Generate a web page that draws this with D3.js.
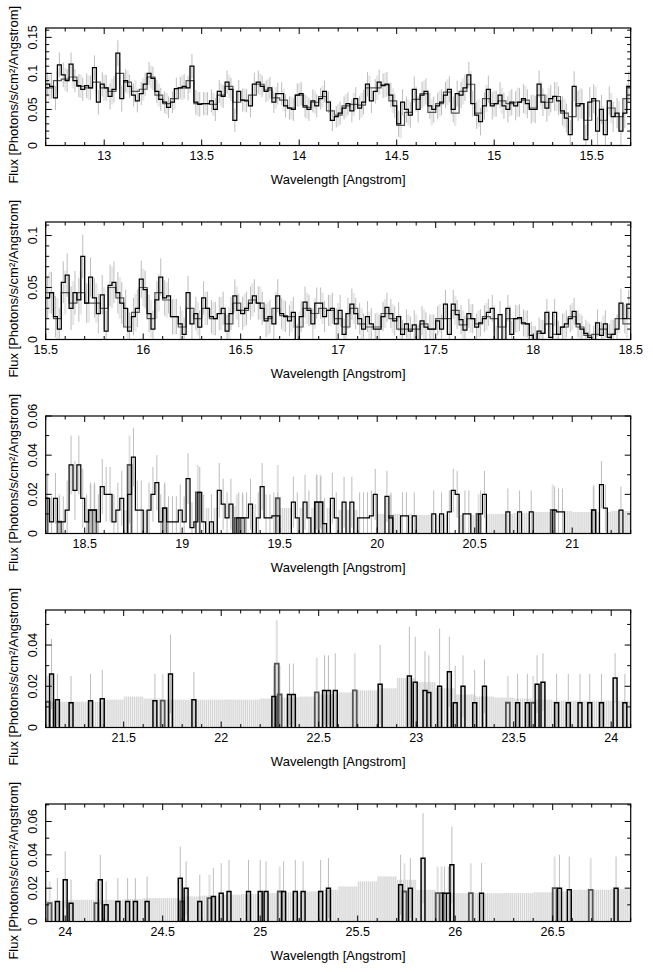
<!DOCTYPE html>
<html><head><meta charset="utf-8">
<script src="https://cdn.jsdelivr.net/npm/d3@7"></script>
<style>
body{margin:0;background:#fff}
svg{display:block}
text{font-family:"Liberation Sans",Arial,Helvetica,sans-serif;fill:#000}
</style>
</head><body>
<svg id="chart" width="653" height="972"></svg>
<script>
// ---------------- DATA ----------------
const p1Range = [12.7, 15.7], p1YMax = 0.163;
const p2Range = [15.5, 18.5], p2YMax = 0.113;
const p3Range = [18.3, 21.3], p3YMax = 0.06;
const p4Range = [21.1, 24.1], p4YMax = 0.057;
const p5Range = [23.9, 26.9], p5YMax = 0.0705;

const p1XTicks = [13, 13.5, 14, 14.5, 15, 15.5];
const p2XTicks = [15.5, 16, 16.5, 17, 17.5, 18, 18.5];
const p3XTicks = [18.5, 19, 19.5, 20, 20.5, 21];
const p4XTicks = [21.5, 22, 22.5, 23, 23.5, 24];
const p5XTicks = [24, 24.5, 25, 25.5, 26, 26.5];

const p1YTicks = [0, 0.05, 0.1, 0.15];
const p2YTicks = [0, 0.05, 0.1];
const p3YTicks = [0, 0.02, 0.04, 0.06];
const p4YTicks = [0, 0.02, 0.04];
const p5YTicks = [0, 0.02, 0.04, 0.06];

const xTitle = "Wavelength [Angstrom]";
const yTitle = "Flux [Photons/s/cm\u00B2/Angstrom]";

// Panel 1: 0.02 A bins from 12.70
const p1Flux = [
0.085,0.082,0.066,0.112,0.098, 0.09,0.113,0.09,0.083,0.078,
0.083,0.08,0.108,0.06,0.085, 0.08,0.068,0.078,0.128,0.065,
0.09,0.082,0.07,0.062,0.072, 0.085,0.1,0.093,0.075,0.064,
0.06,0.053,0.06,0.079,0.08, 0.082,0.08,0.11,0.06,0.057,
0.058,0.058,0.062,0.05,0.075, 0.068,0.088,0.078,0.035,0.075,
0.063,0.062,0.055,0.085,0.088, 0.082,0.075,0.08,0.06,0.072,
0.072,0.055,0.052,0.05,0.07, 0.072,0.055,0.05,0.062,0.055,
0.065,0.075,0.06,0.035,0.04, 0.045,0.052,0.058,0.048,0.065,
0.052,0.06,0.085,0.062,0.075, 0.088,0.083,0.085,0.07,0.055,
0.03,0.06,0.05,0.042,0.078, 0.05,0.07,0.075,0.055,0.05,
0.055,0.06,0.07,0.078,0.05, 0.072,0.07,0.08,0.098,0.058,
0.042,0.033,0.055,0.078,0.055, 0.058,0.07,0.055,0.05,0.06,
0.055,0.06,0.065,0.058,0.05, 0.05,0.085,0.06,0.052,0.065,
0.068,0.062,0.048,0.038,0.015, 0.082,0.055,0.058,0.008,0.06,
0.065,0.02,0.05,0.015,0.062, 0.04,0.045,0.02,0.045,0.082
];
// Panel 1 second spectrum: 0.04 A bins from 12.70
const p1Flux2 = [
0.08,0.09,0.092,0.095,0.082, 0.08,0.088,0.08,0.075,0.1,
0.088,0.075,0.078,0.095,0.07, 0.058,0.065,0.08,0.09,0.058,
0.058,0.057,0.07,0.082,0.06, 0.063,0.07,0.085,0.077,0.066,
0.063,0.052,0.07,0.053,0.06, 0.068,0.048,0.042,0.055,0.057,
0.056,0.08,0.08,0.084,0.062, 0.028,0.046,0.064,0.072,0.046,
0.058,0.074,0.045,0.075,0.085, 0.045,0.065,0.058,0.062,0.058,
0.06,0.063,0.052,0.07,0.06, 0.068,0.045,0.04,0.058,0.035,
0.062,0.035,0.052,0.04,0.065
];
// error half-widths per 0.1 A segment
const p1Err = [0.017,0.016,0.017,0.018,0.016,0.016,0.015,0.017,0.016,0.016,
0.016,0.015,0.016,0.016,0.015,0.016,0.017,0.017,0.018,0.018,
0.018,0.018,0.019,0.018,0.02,0.019,0.02,0.021,0.02,0.021];

// Panel 2: 0.02 A bins from 15.50
const p2Flux = [
0.04,0.045,0.022,0.01,0.055, 0.062,0.03,0.045,0.038,0.08,
0.035,0.06,0.04,0.025,0.043, 0.008,0.052,0.055,0.045,0.035,
0.03,0.008,0.022,0.03,0.058, 0.048,0.025,0.01,0.038,0.06,
0.04,0.042,0.022,0.022,0.015, 0.005,0.045,0.015,0.025,0.012,
0.04,0.03,0.022,0.02,0.025, 0.03,0.008,0.025,0.042,0.028,
0.025,0.03,0.035,0.042,0.035, 0.03,0.018,0.022,0.015,0.042,
0.025,0.022,0.018,0.026,0.0, 0.022,0.036,0.028,0.015,0.035,
0.035,0.022,0.028,0.03,0.015, 0.028,0.005,0.025,0.034,0.025,
0.02,0.01,0.022,0.015,0.01, 0.01,0.022,0.031,0.025,0.018,
0.022,0.005,0.015,0.008,0.014, 0.0,0.018,0.012,0.01,0.01,
0.018,0.01,0.034,0.005,0.034, 0.024,0.019,0.009,0.025,0.02,
0.012,0.016,0.02,0.026,0.03, 0.0,0.024,0.0,0.03,0.005,
0.02,0.021,0.016,0.015,0.004, 0.0,0.008,0.006,0.026,0.002,
0.026,0.005,0.012,0.015,0.02, 0.027,0.015,0.01,0.006,0.002,
0.0,0.016,0.004,0.015,0.002, 0.005,0.01,0.035,0.02,0.034
];
const p2Flux2 = [
0.045,0.02,0.045,0.035,0.045, 0.035,0.035,0.03,0.05,0.04,
0.012,0.026,0.05,0.02,0.045, 0.038,0.022,0.012,0.03,0.02,
0.03,0.02,0.025,0.015,0.035, 0.028,0.038,0.035,0.02,0.03,
0.023,0.022,0.012,0.03,0.025, 0.03,0.028,0.02,0.012,0.03,
0.015,0.012,0.012,0.025,0.02, 0.01,0.01,0.01,0.015,0.01,
0.02,0.02,0.028,0.014,0.02, 0.015,0.022,0.02,0.012,0.02,
0.02,0.015,0.0,0.006,0.015, 0.005,0.012,0.022,0.012,0.004,
0.005,0.01,0.005,0.02,0.015
];
const p2Err = [0.02,0.021,0.019,0.02,0.018,0.018,0.017,0.016,0.016,0.016,
0.016,0.016,0.015,0.015,0.015,0.015,0.015,0.014,0.014,0.014,
0.014,0.014,0.013,0.013,0.013,0.013,0.013,0.013,0.013,0.014];

// Panel 3: 0.02 A bins from 18.30
const p3Flux = [
0.018,0.006,0.018,0.006,0.006, 0.012,0.035,0.022,0.035,0.018,
0.006,0.012,0.012,0.006,0.024, 0.02,0.02,0.006,0.012,0.018,
0.0,0.02,0.039,0.012,0.012, 0.0,0.012,0.02,0.026,0.006,
0.013,0.006,0.006,0.006,0.012, 0.006,0.028,0.003,0.006,0.021,
0.006,0.0,0.006,0.0,0.022, 0.015,0.008,0.015,0.0,0.008,
0.008,0.008,0.015,0.0,0.008, 0.024,0.008,0.008,0.009,0.009,
0.0,0.0,0.0,0.016,0.008, 0.0,0.016,0.008,0.0,0.016,
0.016,0.005,0.0,0.018,0.008, 0.0,0.016,0.0,0.016,0.0,
0.008,0.008,0.008,0.009,0.02, 0.0,0.0,0.019,0.008,0.0,
0.0,0.009,0.009,0.0,0.009, 0.0,0.0,0.0,0.0,0.01,
0.0,0.01,0.0,0.011,0.022, 0.02,0.0,0.01,0.01,0.0,
0.0,0.01,0.02,0.0,0.0, 0.0,0.0,0.0,0.011,0.0,
0.0,0.011,0.0,0.0,0.011, 0.0,0.0,0.0,0.0,0.0,
0.012,0.011,0.011,0.0,0.0, 0.0,0.0,0.0,0.0,0.0,
0.012,0.0,0.025,0.013,0.0, 0.0,0.0,0.012,0.0,0.0
];
const p3Err = [0.013,0.015,0.014,0.014,0.015,0.014,0.013,0.013,0.014,0.013,
0.013,0.012,0.013,0.014,0.013,0.013,0.013,0.013,0.012,0.012,
0.011,0.012,0.012,0.012,0.011,0.011,0.012,0.012,0.012,0.012];
// second spectrum, nonzero bins: [wavelength, flux, error top]
const p3Dark = [[18.30,0.018,0.03],[18.37,0.006,0.02],[18.53,0.012,0.025],[18.55,0.012,0.025],
[18.73,0.035,0.05],[18.91,0.013,0.025],[19.08,0.021,0.035],[19.28,0.008,0.02],[19.31,0.008,0.02],
[19.49,0.018,0.035],[19.69,0.016,0.03],[19.71,0.016,0.03],[20.07,0.009,0.02],[20.52,0.01,0.02],
[20.90,0.012,0.025],[21.11,0.012,0.025]];
// upper-limit envelope for empty bins, per 0.1 A
const p3Env = [0.012,0.012,0.012,0.012,0.012,0.012,0.012,0.013,0.013,0.014,
0.015,0.014,0.013,0.013,0.013,0.012,0.01,0.01,0.01,0.0095,
0.0095,0.0095,0.01,0.01,0.0105,0.011,0.0115,0.011,0.011,0.0115,0.0115];

// Panel 4: sparse nonzero bins [wavelength, flux, error top]
const p4Black = [[21.13,0.026,0.043],[21.16,0.0135,0.026],[21.23,0.012,0.025],[21.33,0.013,0.026],
[21.39,0.014,0.028],[21.66,0.013,0.026],[21.74,0.026,0.045],[21.86,0.0135,0.027],[22.27,0.015,0.03],
[22.35,0.016,0.031],[22.37,0.016,0.031],[22.53,0.018,0.035],[22.55,0.018,0.035],[22.585,0.018,0.036],
[22.815,0.021,0.04],[22.965,0.025,0.049],[22.995,0.022,0.044],[23.045,0.018,0.037],[23.065,0.017,0.035],
[23.12,0.02,0.048],[23.17,0.027,0.044],[23.20,0.012,0.03],[23.24,0.02,0.035],[23.30,0.012,0.028],
[23.35,0.02,0.033],[23.52,0.012,0.026],[23.57,0.012,0.026],[23.62,0.021,0.035],[23.65,0.022,0.036],
[23.72,0.012,0.026],[23.78,0.012,0.026],[23.84,0.012,0.026],[23.89,0.012,0.026],[23.95,0.012,0.026],
[24.02,0.024,0.036],[24.07,0.012,0.026]];
const p4Dark = [[21.11,0.0125,0.025],[21.70,0.013,0.026],[22.285,0.031,0.052],[22.30,0.016,0.03],
[22.49,0.017,0.034],[22.685,0.018,0.036],[23.47,0.012,0.025],[23.60,0.012,0.025]];
const p4Env = [0.0125,0.0125,0.0125,0.0135,0.015,0.014,0.0135,0.0135,0.0135,0.0135,
0.0135,0.014,0.0145,0.015,0.016,0.017,0.018,0.019,0.024,0.022,
0.019,0.016,0.015,0.0145,0.014,0.0135,0.013,0.013,0.013,0.013,0.013];

// Panel 5
const p5Black = [[23.96,0.012,0.026],[24.00,0.025,0.042],[24.03,0.011,0.025],[24.18,0.025,0.04],
[24.21,0.01,0.024],[24.27,0.012,0.026],[24.32,0.012,0.026],[24.36,0.012,0.026],[24.42,0.012,0.027],
[24.59,0.026,0.045],[24.62,0.02,0.036],[24.69,0.012,0.028],[24.76,0.015,0.032],[24.80,0.017,0.035],
[24.84,0.018,0.037],[24.94,0.018,0.037],[25.00,0.018,0.037],[25.03,0.018,0.036],[25.12,0.018,0.036],
[25.18,0.018,0.037],[25.22,0.018,0.036],[25.31,0.018,0.037],[25.35,0.02,0.038],[25.72,0.022,0.04],
[25.77,0.02,0.038],[25.835,0.038,0.065],[25.945,0.017,0.033],[25.965,0.017,0.033],[25.983,0.034,0.057],
[26.135,0.017,0.035],[26.535,0.02,0.04],[26.585,0.019,0.039],[26.825,0.02,0.039]];
const p5Dark = [[23.92,0.011,0.024],[24.16,0.011,0.024],[24.60,0.012,0.026],[24.74,0.014,0.028],
[25.10,0.018,0.033],[25.74,0.018,0.035],[25.91,0.017,0.033],[25.93,0.017,0.033],[26.08,0.017,0.035],
[26.51,0.02,0.039],[26.695,0.019,0.038]];
const p5Env = [0.0125,0.013,0.013,0.013,0.0135,0.014,0.014,0.015,0.0155,0.016,
0.0165,0.017,0.0175,0.018,0.019,0.021,0.024,0.027,0.025,0.019,
0.017,0.017,0.017,0.017,0.017,0.0175,0.018,0.019,0.019,0.0195,0.0195];

// ---------------- LAYOUT ----------------
const plotLeft = 45.7, plotRight = 630.7, plotH = 117.5, firstTop = 28, panelStep = 194;
const plotW = plotRight - plotLeft;

const panels = [
  {range:p1Range, ymax:p1YMax, xt:p1XTicks, yt:p1YTicks, flux:p1Flux, bin:0.02, err:p1Err, flux2:p1Flux2, bin2:0.04},
  {range:p2Range, ymax:p2YMax, xt:p2XTicks, yt:p2YTicks, flux:p2Flux, bin:0.02, err:p2Err, flux2:p2Flux2, bin2:0.04},
  {range:p3Range, ymax:p3YMax, xt:p3XTicks, yt:p3YTicks, flux:p3Flux, bin:0.02, err:p3Err, dark:p3Dark, env:p3Env, envMode:"zeros"},
  {range:p4Range, ymax:p4YMax, xt:p4XTicks, yt:p4YTicks, spikes:p4Black, dark:p4Dark, env:p4Env, envMode:"all"},
  {range:p5Range, ymax:p5YMax, xt:p5XTicks, yt:p5YTicks, spikes:p5Black, dark:p5Dark, env:p5Env, envMode:"all"}
];

const svg = d3.select("#chart");
const SPIKE_W = 0.02;

function stepPath(x, y, x0, bin, vals) {
  const pts = vals.map((v, i) => [x0 + i * bin, v]);
  pts.push([x0 + vals.length * bin, vals[vals.length - 1]]);
  return d3.line().x(d => x(d[0])).y(d => y(d[1])).curve(d3.curveStepAfter)(pts);
}
function spikePath(x, y, list) {
  const p = d3.path();
  list.forEach(([w, v]) => {
    p.moveTo(x(w - SPIKE_W / 2), y(0));
    p.lineTo(x(w - SPIKE_W / 2), y(v));
    p.lineTo(x(w + SPIKE_W / 2), y(v));
    p.lineTo(x(w + SPIKE_W / 2), y(0));
  });
  return p.toString();
}

panels.forEach((cfg, k) => {
  const top = firstTop + panelStep * k;
  const g = svg.append("g").attr("transform", `translate(${plotLeft},${top})`);
  const x = d3.scaleLinear().domain(cfg.range).range([0, plotW]);
  const y = d3.scaleLinear().domain([0, cfg.ymax]).range([plotH, 0]);
  const clipId = "clip" + k;
  svg.append("clipPath").attr("id", clipId).append("rect").attr("width", plotW).attr("height", plotH);
  const body = g.append("g").attr("clip-path", `url(#${clipId})`);
  const segErr = w => cfg.err[Math.max(0, Math.min(cfg.err.length - 1, Math.floor((w - cfg.range[0]) / 0.1 + 1e-9)))];

  // upper-limit envelope for empty bins
  if (cfg.env) {
    const n = Math.round((cfg.range[1] - cfg.range[0]) / 0.01);
    let fine = d3.range(n).map(i => ({i, w: cfg.range[0] + (i + 0.5) * 0.01,
      v: cfg.env[Math.min(cfg.env.length - 1, Math.floor(i / 10))]}));
    if (cfg.envMode === "zeros") fine = fine.filter(d => cfg.flux[Math.floor(d.i / 2)] === 0);
    body.append("g").selectAll("rect").data(fine).join("rect")
      .attr("x", d => x(d.w - 0.005)).attr("width", d => x(d.w + 0.005) - x(d.w - 0.005))
      .attr("y", d => y(d.v)).attr("height", d => y(0) - y(d.v))
      .attr("fill", "#f0f0f0");
    body.append("g").selectAll("line").data(fine).join("line")
      .attr("x1", d => x(d.w)).attr("x2", d => x(d.w))
      .attr("y1", y(0)).attr("y2", d => y(d.v))
      .attr("stroke", "#cdcdcd").attr("stroke-width", 0.8);
  }

  // error bars of second spectrum (light)
  if (cfg.flux2) {
    const d2 = cfg.flux2.map((v, i) => ({w: cfg.range[0] + (i + 0.5) * cfg.bin2, v}));
    body.append("g").selectAll("line").data(d2).join("line")
      .attr("x1", d => x(d.w)).attr("x2", d => x(d.w))
      .attr("y1", d => y(Math.max(0, d.v - segErr(d.w)))).attr("y2", d => y(d.v + segErr(d.w)))
      .attr("stroke", "#e8e8e8").attr("stroke-width", 2.5);
  }
  if (cfg.dark) {
    body.append("g").selectAll("line").data(cfg.dark).join("line")
      .attr("x1", d => x(d[0])).attr("x2", d => x(d[0]))
      .attr("y1", d => y(Math.max(0, 2 * d[1] - d[2]))).attr("y2", d => y(d[2]))
      .attr("stroke", "#e0e0e0").attr("stroke-width", 2);
  }

  // error bars of main spectrum
  if (cfg.flux) {
    const d1 = cfg.flux.map((v, i) => ({w: cfg.range[0] + (i + 0.5) * cfg.bin, v}))
      .filter(d => !(cfg.env && d.v === 0));
    body.append("g").selectAll("line").data(d1).join("line")
      .attr("x1", d => x(d.w)).attr("x2", d => x(d.w))
      .attr("y1", d => y(Math.max(0, d.v - segErr(d.w)))).attr("y2", d => y(d.v + segErr(d.w)))
      .attr("stroke", "#bdbdbd").attr("stroke-width", 1);
  }
  if (cfg.spikes) {
    body.append("g").selectAll("line").data(cfg.spikes).join("line")
      .attr("x1", d => x(d[0])).attr("x2", d => x(d[0]))
      .attr("y1", d => y(Math.max(0, 2 * d[1] - d[2]))).attr("y2", d => y(d[2]))
      .attr("stroke", "#bdbdbd").attr("stroke-width", 1);
  }

  // second spectrum
  if (cfg.flux2) {
    body.append("path").attr("d", stepPath(x, y, cfg.range[0], cfg.bin2, cfg.flux2))
      .attr("fill", "none").attr("stroke", "#555").attr("stroke-width", 1.2);
  }
  if (cfg.dark) {
    body.append("path").attr("d", spikePath(x, y, cfg.dark))
      .attr("fill", "none").attr("stroke", "#555").attr("stroke-width", 1.8);
  }
  // main spectrum
  if (cfg.flux) {
    body.append("path").attr("d", stepPath(x, y, cfg.range[0], cfg.bin, cfg.flux))
      .attr("fill", "none").attr("stroke", "#000").attr("stroke-width", 1.25);
  }
  if (cfg.spikes) {
    body.append("path").attr("d", spikePath(x, y, cfg.spikes))
      .attr("fill", "none").attr("stroke", "#000").attr("stroke-width", 1.5);
  }

  // frame
  g.append("rect").attr("width", plotW).attr("height", plotH)
    .attr("fill", "none").attr("stroke", "#000").attr("stroke-width", 1.2);

  // x ticks (inward, bottom and top)
  const xMinor = d3.range(Math.ceil(cfg.range[0] * 10 - 1e-6), Math.floor(cfg.range[1] * 10 + 1e-6) + 1).map(v => v / 10);
  const isMajorX = v => cfg.xt.some(t => Math.abs(t - v) < 1e-6);
  const tg = g.append("g").attr("stroke", "#000").attr("stroke-width", 1);
  xMinor.forEach(v => {
    const len = isMajorX(v) ? 6 : 3.5;
    tg.append("line").attr("x1", x(v)).attr("x2", x(v)).attr("y1", plotH).attr("y2", plotH - len);
    tg.append("line").attr("x1", x(v)).attr("x2", x(v)).attr("y1", 0).attr("y2", len);
  });
  const yMinor = d3.range(1, Math.floor(cfg.ymax * 100 + 1e-6) + 1).map(v => v / 100);
  const isMajorY = v => cfg.yt.some(t => Math.abs(t - v) < 1e-6);
  yMinor.forEach(v => {
    const len = isMajorY(v) ? 6 : 3.5;
    tg.append("line").attr("x1", 0).attr("x2", len).attr("y1", y(v)).attr("y2", y(v));
    tg.append("line").attr("x1", plotW).attr("x2", plotW - len).attr("y1", y(v)).attr("y2", y(v));
  });

  // tick labels
  g.append("g").selectAll("text").data(cfg.xt).join("text")
    .attr("x", d => x(d)).attr("y", plotH + 14.5)
    .attr("text-anchor", "middle").attr("font-size", 12.5)
    .text(d => String(d));
  g.append("g").selectAll("text").data(cfg.yt).join("text")
    .attr("transform", d => `translate(-8.5,${y(d)}) rotate(-90)`)
    .attr("text-anchor", "middle").attr("font-size", 12.5)
    .text(d => String(d));

  // titles
  g.append("text").attr("x", plotW / 2).attr("y", plotH + 38)
    .attr("text-anchor", "middle").attr("font-size", 13).text(xTitle);
  g.append("text").attr("transform", `translate(-27.5,${plotH / 2 + 8}) rotate(-90)`)
    .attr("text-anchor", "middle").attr("font-size", 13).text(yTitle);
});
</script>
</body></html>
